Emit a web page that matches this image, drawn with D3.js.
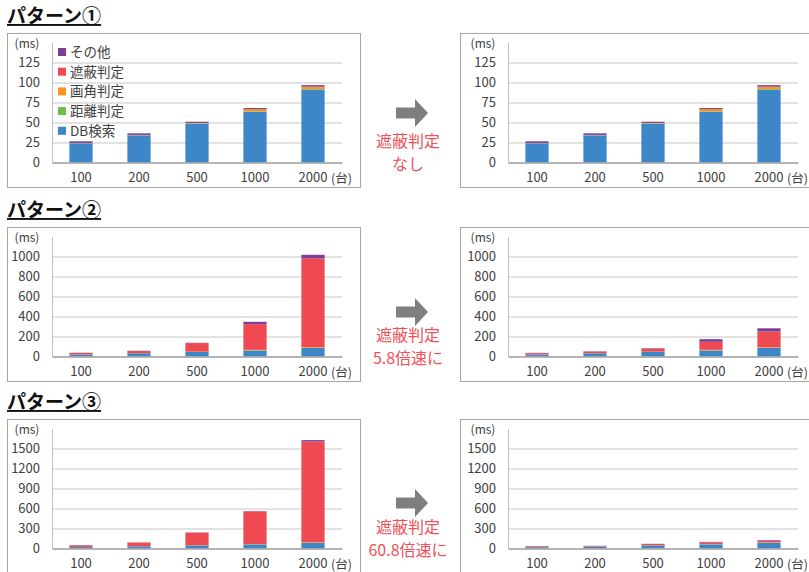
<!DOCTYPE html>
<html>
<head>
<meta charset="utf-8">
<script src="https://cdn.jsdelivr.net/npm/d3@7"></script>
<style>
  body { margin: 0; background: #fff; }
  svg { display: block; font-family: "Noto Sans CJK JP", "Noto Sans", sans-serif; }
</style>
</head>
<body>
<svg id="chart" width="809" height="572"></svg>
<script>
// categories (台数) and series, stacked bottom to top
var categories = ["100", "200", "500", "1000", "2000"]
var seriesNames = ["DB検索", "距離判定", "画角判定", "遮蔽判定", "その他"]
var seriesColors = ["#3d87c9", "#72bd45", "#f7941f", "#ef4a52", "#7e3d96"]

var titles = ["パターン①", "パターン②", "パターン③"]
var notes = [["遮蔽判定", "なし"], ["遮蔽判定", "5.8倍速に"], ["遮蔽判定", "60.8倍速に"]]

var ticks1 = [0, 25, 50, 75, 100, 125]
var ticks2 = [0, 200, 400, 600, 800, 1000]
var ticks3 = [0, 300, 600, 900, 1200, 1500]

// one row per series (DB検索, 距離判定, 画角判定, 遮蔽判定, その他), ms
var pattern1Before = [
  [24, 34, 48.5, 63.5, 91],
  [0.2, 0.2, 0.3, 0.4, 0.8],
  [0.3, 0.3, 0.7, 3, 2.5],
  [0, 0, 0, 0, 0.6],
  [2, 2, 1.5, 1.2, 1.8]
]
var pattern1After = [
  [24, 34, 48.5, 63.5, 91],
  [0.2, 0.2, 0.3, 0.4, 0.8],
  [0.3, 0.3, 0.7, 3, 2.5],
  [0, 0, 0, 0, 0.6],
  [2, 2, 1.5, 1.2, 1.8]
]
var pattern2Before = [
  [20, 32, 45, 60, 85],
  [0.5, 0.5, 1, 2, 3],
  [1, 1, 2, 5, 6],
  [14, 21, 86, 257, 888],
  [2, 3, 3, 23, 35]
]
var pattern2After = [
  [20, 32, 45, 60, 85],
  [0.5, 0.5, 1, 2, 3],
  [1, 1, 2, 5, 6],
  [12, 14, 30, 80, 156],
  [3, 4, 5, 26, 32]
]
var pattern3Before = [
  [22, 33, 46, 62, 85],
  [0.5, 0.5, 1, 2, 3],
  [1, 1, 2, 4, 6],
  [25, 55, 190, 488, 1510],
  [2, 2, 2, 5, 22]
]
var pattern3After = [
  [20, 28, 46, 62, 85],
  [0.5, 0.5, 1, 2, 3],
  [1, 1, 2, 4, 6],
  [12, 9, 18, 25, 24],
  [2, 2, 3, 6, 8]
]

var rows = [
  {top: 33, ticks: ticks1, before: pattern1Before, after: pattern1After, arrowY: 80},
  {top: 227, ticks: ticks2, before: pattern2Before, after: pattern2After, arrowY: 85},
  {top: 419, ticks: ticks3, before: pattern3Before, after: pattern3After, arrowY: 84}
]

var textColor = "#404040"
var svg = d3.select("#chart")

function toRecords(values) {
  return categories.map(function(c, i) {
    var r = {cat: c}
    seriesNames.forEach(function(s, j) { r[s] = values[j][i] })
    return r
  })
}

function drawPanel(boxLeft, plotLeft, top, ticks, values, withLegend) {
  var plotRight = plotLeft + 290
  var zero = top + 129.5
  var g = svg.append("g")

  g.append("rect")
    .attr("x", boxLeft + 0.5)
    .attr("y", top + 0.5)
    .attr("width", 353)
    .attr("height", 154)
    .attr("fill", "#fff")
    .attr("stroke", "#a6a6a6")

  var x = d3.scaleBand().domain(categories)
    .range([plotLeft, plotRight])
    .paddingInner(0.6).paddingOuter(0.3)
  var y = d3.scaleLinear().domain([0, d3.max(ticks)]).range([zero, zero - 100])

  // gridlines + tick labels
  var yAxis = g.append("g")
    .attr("transform", `translate(${plotLeft},0)`)
    .call(d3.axisLeft(y).tickValues(ticks).tickFormat(d3.format("d"))
      .tickSize(-(plotRight - plotLeft)).tickPadding(12))
  yAxis.select(".domain").remove()
  yAxis.selectAll("line").attr("stroke", "#d9d9d9").attr("stroke-width", 1.3)
  yAxis.selectAll("text")
    .attr("fill", textColor)
    .style("font-size", "13px")
    .style("font-family", "Noto Sans CJK JP")

  g.append("text")
    .attr("x", plotLeft - 25)
    .attr("y", top + 15)
    .attr("text-anchor", "middle")
    .attr("fill", textColor)
    .style("font-size", "12px")
    .text("(ms)")

  var stack = d3.stack().keys(seriesNames)(toRecords(values))

  g.selectAll(".layer")
    .data(stack)
    .enter().append("g")
      .attr("fill", function(d, i) { return seriesColors[i] })
    .selectAll("rect")
    .data(function(d) { return d })
    .enter().append("rect")
      .attr("x", function(d) { return x(d.data.cat) })
      .attr("width", x.bandwidth())
      .attr("y", function(d) { return y(d[1]) })
      .attr("height", function(d) { return Math.max(0, y(d[0]) - y(d[1])) })

  // vertical axis line
  g.append("line")
    .attr("x1", plotLeft + 0.5).attr("x2", plotLeft + 0.5)
    .attr("y1", top + 10).attr("y2", zero)
    .attr("stroke", "#bfbfbf")

  var xAxis = g.append("g")
    .attr("transform", `translate(0,${zero})`)
    .call(d3.axisBottom(x).tickSize(0).tickPadding(10))
  xAxis.select(".domain").attr("stroke", "#a6a6a6").attr("stroke-width", 1.5)
  xAxis.selectAll("text")
    .attr("fill", textColor)
    .style("font-size", "13px")
    .style("font-family", "Noto Sans CJK JP")

  g.append("text")
    .attr("x", x("2000") + x.bandwidth() / 2 + 18)
    .attr("y", zero + 20)
    .attr("fill", textColor)
    .style("font-size", "12.5px")
    .text("(台)")

  if (withLegend) {
    var legend = g.selectAll(".legend")
      .data(seriesNames.slice().reverse())
      .enter().append("g")
        .attr("transform", function(d, i) { return `translate(${plotLeft + 6},${top + 19 + i * 19.7})` })
    legend.append("rect")
      .attr("x", 0).attr("y", -4)
      .attr("width", 8).attr("height", 8)
      .attr("fill", function(d) { return seriesColors[seriesNames.indexOf(d)] })
    legend.append("text")
      .attr("x", 12)
      .attr("y", 5)
      .attr("fill", textColor)
      .style("font-size", "13.5px")
      .text(function(d) { return d })
  }
}

rows.forEach(function(r, i) {
  svg.append("text")
    .attr("x", 7)
    .attr("y", r.top - 10)
    .attr("fill", "#111")
    .style("font-size", "19px")
    .style("font-weight", "bold")
    .style("text-decoration", "underline")
    .text(titles[i])

  drawPanel(7, 52, r.top, r.ticks, r.before, i === 0)
  drawPanel(460, 508, r.top, r.ticks, r.after, false)

  // arrow
  var ay = r.top + r.arrowY
  svg.append("path")
    .attr("d", `M396,${ay - 5.5}H415V${ay - 14}L428,${ay}L415,${ay + 14}V${ay + 5.5}H396Z`)
    .attr("fill", "#7f7f7f")

  notes[i].forEach(function(t, k) {
    svg.append("text")
      .attr("x", 408)
      .attr("y", r.top + 114 + k * 23)
      .attr("text-anchor", "middle")
      .attr("fill", "#f0505a")
      .style("font-size", "16px")
      .text(t)
  })
})
</script>
</body>
</html>
